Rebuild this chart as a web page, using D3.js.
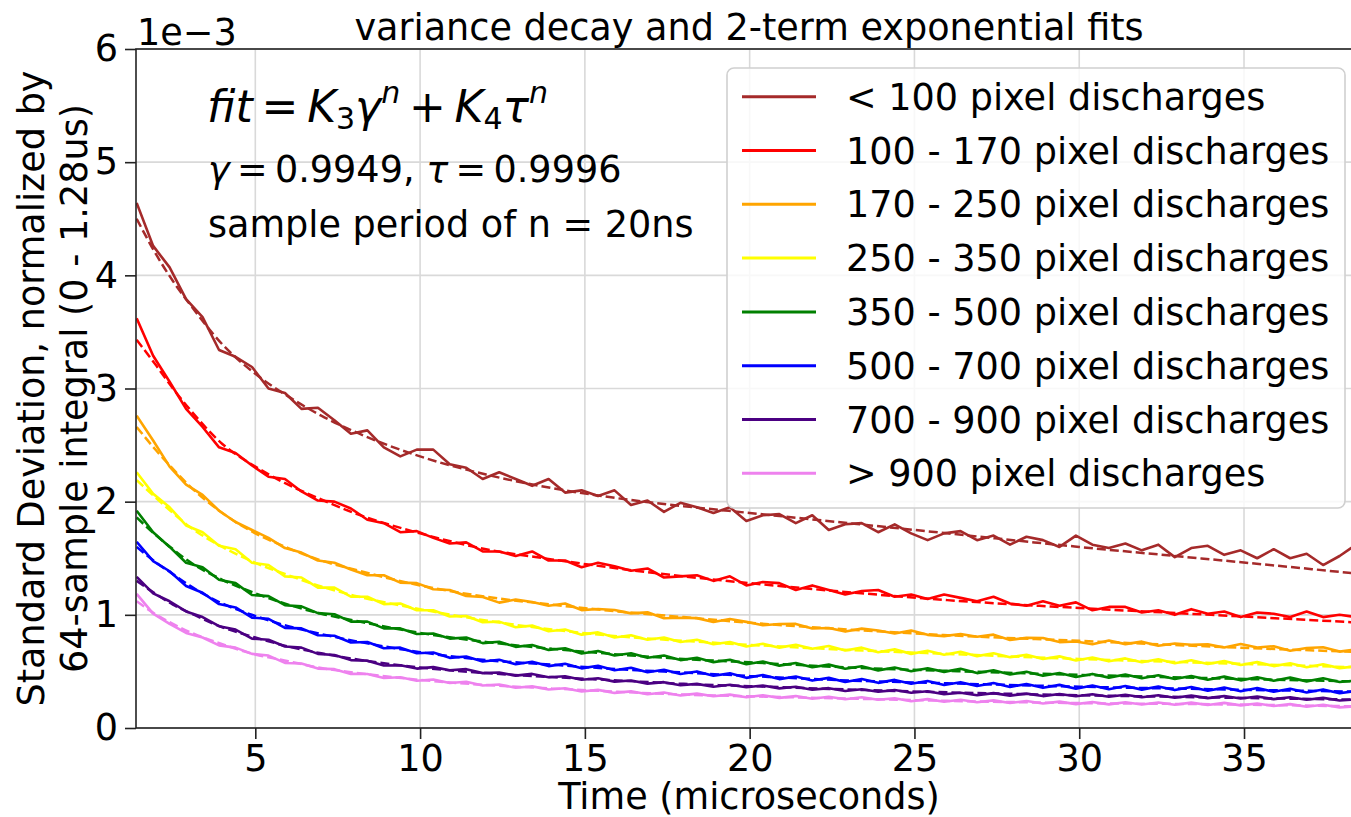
<!DOCTYPE html>
<html>
<head>
<meta charset="utf-8">
<script src="https://cdn.jsdelivr.net/npm/d3@7"></script>
<style>
  body { margin: 0; background: #fff; }
  svg { display: block; font-family: "DejaVu Sans", sans-serif; }
</style>
</head>
<body>
<svg id="chart" width="1351" height="817"></svg>
<script>
// Data (values in units of 1e-3)
const timeUs = [1.4,1.9,2.4,2.9,3.4,3.9,4.4,4.9,5.4,5.9,6.4,6.9,7.4,7.9,8.4,8.9,9.4,9.9,10.4,10.9,
  11.4,11.9,12.4,12.9,13.4,13.9,14.4,14.9,15.4,15.9,16.4,16.9,17.4,17.9,18.4,18.9,19.4,19.9,20.4,20.9,
  21.4,21.9,22.4,22.9,23.4,23.9,24.4,24.9,25.4,25.9,26.4,26.9,27.4,27.9,28.4,28.9,29.4,29.9,30.4,30.9,
  31.4,31.9,32.4,32.9,33.4,33.9,34.4,34.9,35.4,35.9,36.4,36.9,37.4,37.9,38.4];

const labels = ["< 100 pixel discharges", "100 - 170 pixel discharges", "170 - 250 pixel discharges",
  "250 - 350 pixel discharges", "350 - 500 pixel discharges", "500 - 700 pixel discharges",
  "700 - 900 pixel discharges", "> 900 pixel discharges"];
const colors = ["#a52a2a", "#ff0000", "#ffa500", "#ffff00", "#008000", "#0000ff", "#4b0082", "#ee82ee"];

const under100 = [4.64,4.26,4.07,3.79,3.63,3.34,3.28,3.19,3.00,2.96,
  2.82,2.83,2.72,2.60,2.63,2.48,2.40,2.46,2.46,2.33,
  2.30,2.20,2.26,2.20,2.14,2.20,2.08,2.10,2.05,2.10,
  1.97,2.01,1.91,1.99,1.95,1.90,1.95,1.83,1.88,1.89,
  1.81,1.88,1.75,1.80,1.81,1.73,1.80,1.72,1.66,1.72,
  1.74,1.66,1.70,1.62,1.69,1.66,1.60,1.70,1.62,1.59,
  1.63,1.57,1.62,1.51,1.59,1.61,1.53,1.57,1.50,1.58,
  1.50,1.54,1.44,1.52,1.62];
const r100to170 = [3.62,3.29,3.06,2.82,2.66,2.48,2.43,2.32,2.22,2.20,
  2.09,2.01,2.00,1.94,1.84,1.81,1.73,1.74,1.68,1.63,
  1.64,1.56,1.56,1.52,1.56,1.48,1.48,1.42,1.46,1.43,
  1.39,1.41,1.33,1.34,1.35,1.30,1.34,1.26,1.29,1.28,
  1.22,1.26,1.22,1.18,1.21,1.22,1.16,1.18,1.14,1.18,
  1.15,1.12,1.16,1.10,1.08,1.12,1.08,1.11,1.04,1.07,
  1.07,1.02,1.04,1.00,1.05,1.01,1.03,0.98,1.02,1.01,
  0.98,1.03,0.98,1.00,0.98];
const r170to250 = [2.76,2.54,2.31,2.15,2.06,1.92,1.82,1.75,1.68,1.59,
  1.55,1.48,1.46,1.40,1.35,1.35,1.285,1.28,1.226,1.22,
  1.167,1.157,1.108,1.135,1.114,1.081,1.10,1.042,1.052,1.043,
  1.013,1.022,0.97,0.974,0.971,0.937,0.963,0.938,0.908,0.919,
  0.92,0.879,0.884,0.852,0.878,0.862,0.835,0.862,0.823,0.812,
  0.831,0.806,0.825,0.778,0.797,0.795,0.759,0.764,0.74,0.773,
  0.741,0.763,0.727,0.747,0.735,0.739,0.712,0.742,0.711,0.723,
  0.683,0.707,0.713,0.675,0.694];
const r250to350 = [2.26,2.07,1.95,1.79,1.73,1.61,1.58,1.46,1.44,1.34,
  1.33,1.24,1.24,1.16,1.16,1.095,1.10,1.04,1.04,0.985,
  0.99,0.935,0.94,0.89,0.905,0.855,0.87,0.825,0.845,0.80,
  0.82,0.78,0.80,0.76,0.78,0.74,0.76,0.72,0.745,0.71,
  0.735,0.70,0.725,0.685,0.71,0.67,0.695,0.655,0.683,0.648,
  0.673,0.635,0.66,0.625,0.647,0.61,0.633,0.597,0.623,0.589,
  0.615,0.581,0.607,0.573,0.599,0.565,0.591,0.557,0.582,0.547,
  0.572,0.537,0.563,0.529,0.545];
const r350to500 = [1.92,1.73,1.60,1.46,1.42,1.31,1.28,1.175,1.165,1.085,
  1.075,1.015,1.005,0.94,0.94,0.88,0.88,0.83,0.835,0.79,
  0.80,0.75,0.762,0.717,0.733,0.69,0.705,0.658,0.68,0.64,
  0.66,0.62,0.64,0.60,0.62,0.582,0.603,0.563,0.587,0.551,
  0.575,0.537,0.56,0.523,0.546,0.509,0.535,0.501,0.528,0.496,
  0.523,0.485,0.51,0.473,0.497,0.461,0.486,0.451,0.478,0.445,
  0.472,0.439,0.466,0.433,0.46,0.427,0.454,0.421,0.449,0.417,
  0.445,0.412,0.439,0.406,0.42];
const r500to700 = [1.645,1.475,1.385,1.255,1.195,1.095,1.065,0.975,0.965,0.885,
  0.88,0.82,0.815,0.755,0.76,0.705,0.71,0.66,0.667,0.62,
  0.632,0.587,0.603,0.563,0.585,0.547,0.567,0.527,0.55,0.511,
  0.532,0.493,0.515,0.477,0.50,0.462,0.483,0.443,0.468,0.432,
  0.455,0.419,0.443,0.407,0.433,0.399,0.425,0.391,0.415,0.38,
  0.405,0.371,0.397,0.363,0.389,0.355,0.381,0.347,0.375,0.343,
  0.371,0.339,0.367,0.335,0.362,0.329,0.357,0.325,0.353,0.32,
  0.347,0.314,0.341,0.308,0.325];
const r700to900 = [1.335,1.19,1.12,1.03,0.98,0.90,0.87,0.79,0.78,0.72,
  0.71,0.655,0.645,0.60,0.595,0.552,0.555,0.525,0.538,0.51,
  0.52,0.485,0.49,0.463,0.478,0.448,0.457,0.427,0.44,0.41,
  0.42,0.392,0.405,0.378,0.39,0.365,0.382,0.36,0.375,0.35,
  0.364,0.338,0.352,0.327,0.343,0.32,0.335,0.311,0.325,0.298,
  0.312,0.29,0.308,0.286,0.304,0.282,0.301,0.28,0.298,0.276,
  0.294,0.272,0.29,0.268,0.286,0.264,0.282,0.26,0.278,0.255,
  0.272,0.249,0.266,0.243,0.252];
const over900 = [1.185,1.01,0.92,0.84,0.80,0.73,0.71,0.655,0.64,0.575,
  0.57,0.525,0.52,0.478,0.477,0.442,0.448,0.418,0.428,0.398,
  0.408,0.376,0.384,0.356,0.368,0.34,0.351,0.322,0.337,0.31,
  0.324,0.298,0.313,0.288,0.304,0.28,0.295,0.271,0.289,0.266,
  0.282,0.259,0.276,0.254,0.272,0.249,0.263,0.237,0.255,0.232,
  0.25,0.227,0.244,0.221,0.238,0.216,0.233,0.211,0.23,0.209,
  0.228,0.207,0.226,0.205,0.224,0.203,0.222,0.20,0.217,0.194,
  0.211,0.188,0.205,0.182,0.192];

// 2-term exponential fits, read at fewer points
const fitTimeUs = [1.4, 2, 2.5, 3, 4, 5, 6, 7, 8, 10, 12, 14, 16, 18, 20, 23, 26, 30, 34, 38.6];
const fitUnder100 = [4.50,4.18,3.95,3.75,3.39,3.13,2.93,2.76,2.62,2.40,2.24,2.12,2.03,1.96,1.90,1.81,1.72,1.60,1.49,1.36];
const fit100to170 = [3.43,3.20,3.00,2.82,2.51,2.31,2.15,2.02,1.90,1.72,1.58,1.49,1.41,1.34,1.28,1.20,1.13,1.06,1.00,0.93];
const fit170to250 = [2.66,2.45,2.29,2.14,1.90,1.72,1.59,1.48,1.40,1.26,1.16,1.09,1.03,0.98,0.93,0.87,0.82,0.77,0.72,0.67];
const fit250to350 = [2.19,2.03,1.90,1.78,1.60,1.46,1.35,1.25,1.17,1.05,0.95,0.87,0.81,0.77,0.735,0.69,0.655,0.61,0.575,0.535];
const fit350to500 = [1.86,1.70,1.58,1.47,1.31,1.19,1.09,1.01,0.95,0.84,0.76,0.70,0.65,0.61,0.58,0.535,0.505,0.47,0.44,0.41];
const fit500to700 = [1.60,1.46,1.36,1.26,1.10,0.99,0.90,0.83,0.77,0.67,0.60,0.56,0.52,0.49,0.46,0.42,0.395,0.365,0.343,0.32];
const fit700to900 = [1.30,1.18,1.09,1.02,0.89,0.80,0.72,0.66,0.61,0.535,0.485,0.45,0.42,0.39,0.37,0.34,0.315,0.29,0.27,0.25];
const fitOver900 = [1.12,1.00,0.92,0.85,0.74,0.65,0.59,0.53,0.49,0.425,0.38,0.35,0.32,0.295,0.28,0.26,0.24,0.22,0.21,0.19];

const xTicks = [5, 10, 15, 20, 25, 30, 35];
const yTicks = [0, 1, 2, 3, 4, 5, 6];

const measured = [under100, r100to170, r170to250, r250to350, r350to500, r500to700, r700to900, over900];
const fits = [fitUnder100, fit100to170, fit170to250, fit250to350, fit350to500, fit500to700, fit700to900, fitOver900];

// Layout
const plotL = 136, plotR = 1362, plotT = 49, plotB = 728;
const fs = 36.6;
const svg = d3.select("#chart");
const x = d3.scaleLinear().domain([1.38, 38.58]).range([plotL, plotR]);
const y = d3.scaleLinear().domain([0, 6]).range([plotB, plotT]);

svg.append("defs").append("clipPath").attr("id", "plot")
  .append("rect").attr("x", plotL).attr("y", plotT).attr("width", plotR - plotL).attr("height", plotB - plotT);

// grid
svg.append("g").selectAll("line").data(xTicks).enter().append("line")
  .attr("x1", d => x(d)).attr("x2", d => x(d)).attr("y1", plotT).attr("y2", plotB)
  .attr("stroke", "#d9d9d9").attr("stroke-width", 1.6);
svg.append("g").selectAll("line").data(yTicks).enter().append("line")
  .attr("x1", plotL).attr("x2", plotR).attr("y1", d => y(d)).attr("y2", d => y(d))
  .attr("stroke", "#d9d9d9").attr("stroke-width", 1.6);

// series
const lines = svg.append("g").attr("clip-path", "url(#plot)");
const line = d3.line().x((d, i) => x(timeUs[i])).y(d => y(d));
const fitLine = d3.line().x((d, i) => x(fitTimeUs[i])).y(d => y(d)).curve(d3.curveMonotoneX);
measured.forEach((vals, k) => {
  lines.append("path").datum(vals).attr("d", line)
    .attr("fill", "none").attr("stroke", colors[k]).attr("stroke-width", 2.6)
    .attr("stroke-linejoin", "round");
  lines.append("path").datum(fits[k]).attr("d", fitLine)
    .attr("fill", "none").attr("stroke", colors[k]).attr("stroke-width", 2.5)
    .attr("stroke-dasharray", "9,4");
});

// axes
const xAxis = svg.append("g").attr("transform", `translate(0,${plotB})`)
  .call(d3.axisBottom(x).tickValues(xTicks).tickSize(11).tickPadding(6).tickFormat(d3.format("d")));
const yAxis = svg.append("g").attr("transform", `translate(${plotL},0)`)
  .call(d3.axisLeft(y).tickValues(yTicks).tickSize(11).tickPadding(7).tickFormat(d3.format("d")));
[xAxis, yAxis].forEach(a => {
  a.select(".domain").remove();
  a.selectAll(".tick line").attr("stroke", "#222").attr("stroke-width", 1.6);
  a.selectAll(".tick text").attr("font-size", fs).attr("fill", "#000")
    .attr("font-family", "DejaVu Sans, sans-serif");
});

svg.append("rect").attr("x", plotL).attr("y", plotT).attr("width", plotR - plotL).attr("height", plotB - plotT)
  .attr("fill", "none").attr("stroke", "#222").attr("stroke-width", 1.6);

// texts
svg.append("text").attr("x", 137).attr("y", 45).attr("font-size", fs).text("1e\u22123");
svg.append("text").attr("x", 749).attr("y", 40).attr("font-size", fs).attr("text-anchor", "middle")
  .text("variance decay and 2-term exponential fits");
svg.append("text").attr("x", 749).attr("y", 809).attr("font-size", fs).attr("text-anchor", "middle")
  .text("Time (microseconds)");
const yl = svg.append("text").attr("transform", "rotate(-90)").attr("font-size", fs).attr("text-anchor", "middle");
yl.append("tspan").attr("x", -388.5).attr("y", 44).text("Standard Deviation, normalized by");
yl.append("tspan").attr("x", -388.5).attr("y", 87).text("64-sample integral (0 - 1.28us)");

// formula annotation
const f = svg.append("text").attr("x", 207).attr("y", 122).attr("font-size", 44);
f.append("tspan").attr("font-style", "italic").text("fit");
f.append("tspan").text("\u2009=\u2009");
f.append("tspan").attr("font-style", "italic").text("K");
f.append("tspan").attr("font-size", 30).attr("dy", 7).text("3");
f.append("tspan").attr("font-style", "italic").attr("dy", -7).text("γ");
f.append("tspan").attr("font-style", "italic").attr("font-size", 30).attr("dy", -19).text("n");
f.append("tspan").attr("dy", 19).text("\u2009+\u2009");
f.append("tspan").attr("font-style", "italic").text("K");
f.append("tspan").attr("font-size", 30).attr("dy", 7).text("4");
f.append("tspan").attr("font-style", "italic").attr("dy", -7).text("τ");
f.append("tspan").attr("font-style", "italic").attr("font-size", 30).attr("dy", -19).text("n");

const g2 = svg.append("text").attr("x", 208).attr("y", 182).attr("font-size", fs);
g2.append("tspan").attr("font-style", "italic").text("γ");
g2.append("tspan").text("\u2009=\u20090.9949, ");
g2.append("tspan").attr("font-style", "italic").text("τ");
g2.append("tspan").text("\u2009=\u20090.9996");
svg.append("text").attr("x", 208).attr("y", 237).attr("font-size", fs).text("sample period of n = 20ns");

// legend
const legend = svg.append("g");
legend.append("rect").attr("x", 727).attr("y", 68).attr("width", 618).attr("height", 440)
  .attr("rx", 7).attr("fill", "#fff").attr("fill-opacity", 0.8)
  .attr("stroke", "#d0d0d0").attr("stroke-width", 1.6);
const rows = legend.selectAll("g.row").data(labels).enter().append("g").attr("class", "row")
  .attr("transform", (d, i) => `translate(0,${96.7 + i * 53.8})`);
rows.append("line").attr("x1", 742).attr("x2", 816).attr("y1", 0).attr("y2", 0)
  .attr("stroke", (d, i) => colors[i]).attr("stroke-width", 3);
rows.append("text").attr("x", 846).attr("y", 13).attr("font-size", fs).text(d => d);
</script>
</body>
</html>
